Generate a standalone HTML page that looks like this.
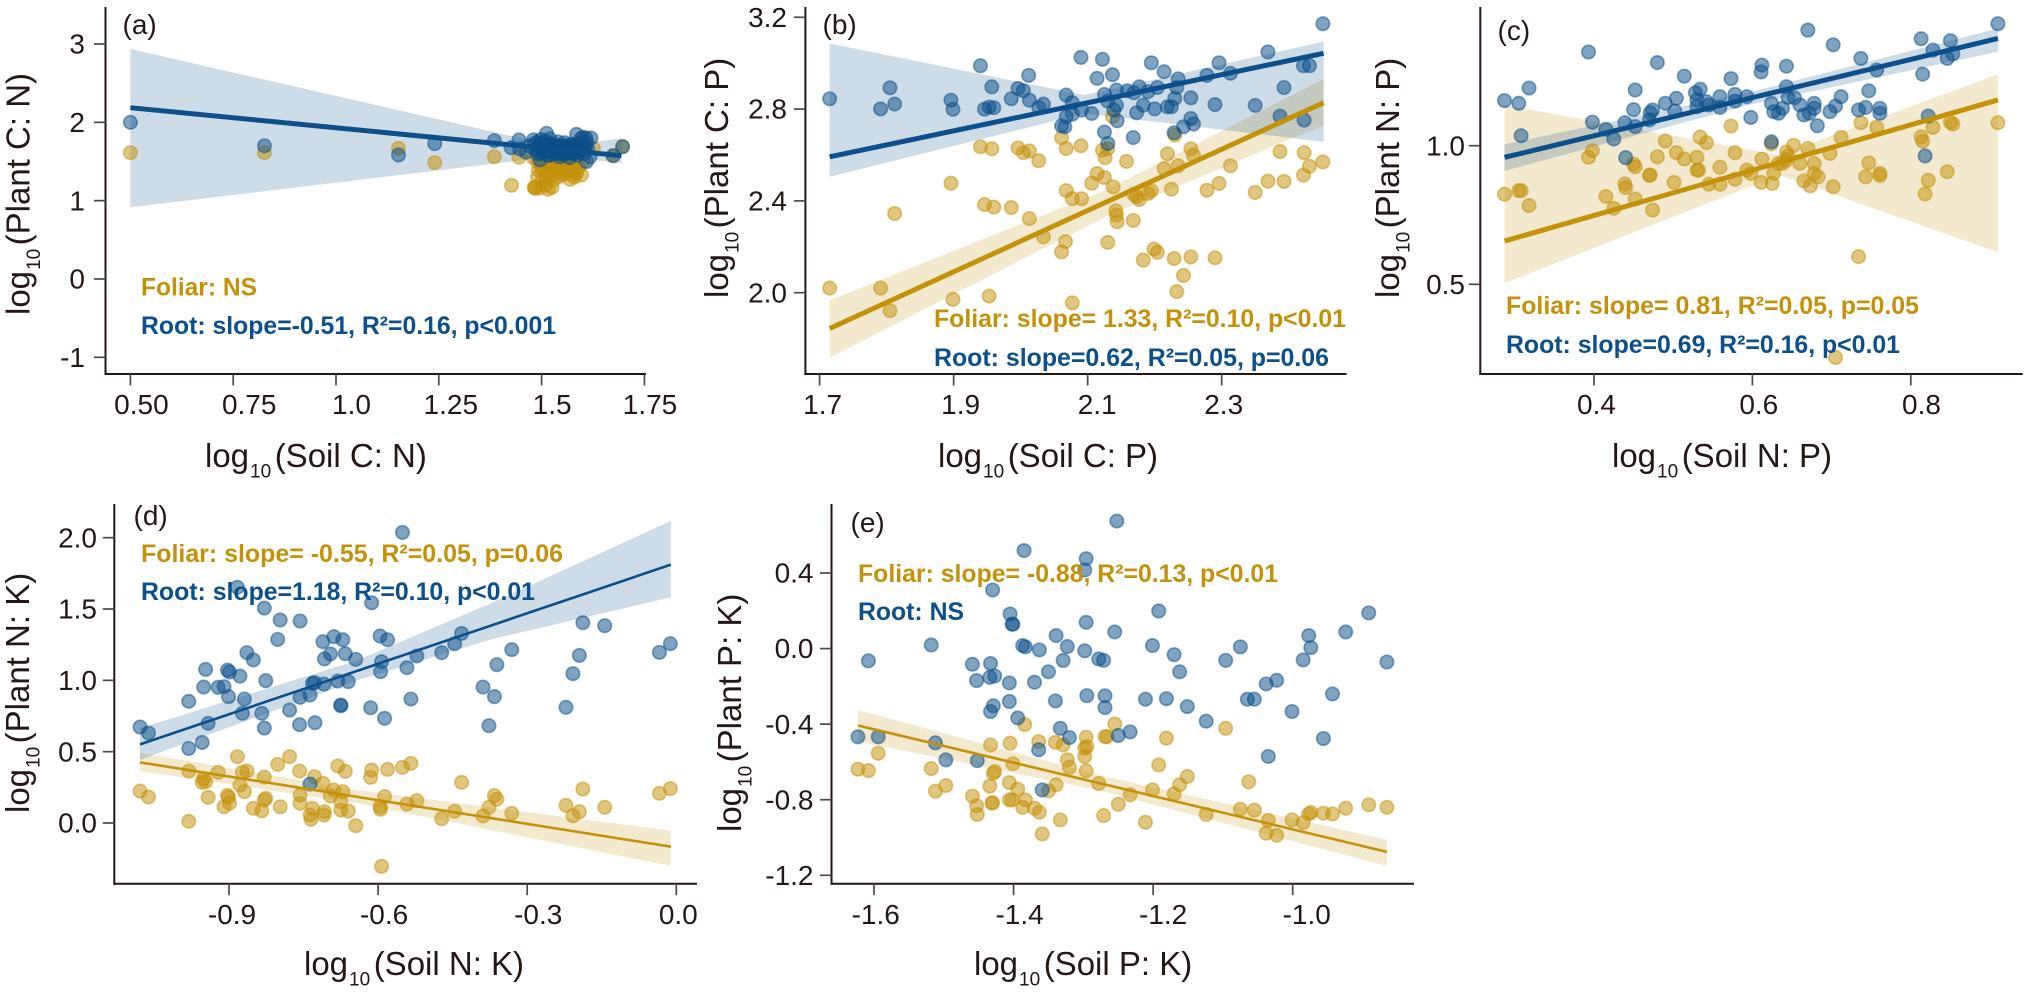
<!DOCTYPE html>
<html lang="en">
<head>
<meta charset="utf-8">
<title>Plant versus soil stoichiometry regressions</title>
<style>
html,body{margin:0;padding:0;background:#fff;}
#figure{display:block;width:2024px;height:992px;font-family:"Liberation Sans",Arial,sans-serif;}
.tick{font-size:28px;fill:#231815;}
.title{font-size:33px;fill:#231815;}
.sub{font-size:19px;}
.letter{font-size:28px;fill:#231815;}
.note{font-size:24.6px;font-weight:700;}
.foliar{fill:#C4920A;}
.root{fill:#0C4F8A;}
</style>
</head>
<body>
<svg id="figure" xmlns="http://www.w3.org/2000/svg" width="2024" height="992" viewBox="0 0 2024 992">
  <g id="layer-a"></g>
  <g id="layer-b"></g>
  <g id="layer-c"></g>
  <g id="layer-d"></g>
  <g id="layer-e"></g>

  <text class="letter" x="122.5" y="34">(a)</text>
  <text class="title" x="205" y="467">log<tspan class="sub" dx="1" dy="10.5">10</tspan><tspan dx="3.5" dy="-10.5">(Soil C: N)</tspan></text>
  <text class="title" transform="translate(29.5,315) rotate(-90)">log<tspan class="sub" dx="1" dy="10.5">10</tspan><tspan dx="3.5" dy="-10.5">(Plant C: N)</tspan></text>
  <text class="note foliar" x="141" y="295.5" textLength="116" lengthAdjust="spacingAndGlyphs">Foliar: NS</text>
  <text class="note root" x="141" y="334" textLength="415" lengthAdjust="spacingAndGlyphs">Root: slope=-0.51, R²=0.16, p&lt;0.001</text>

  <text class="letter" x="822.5" y="34">(b)</text>
  <text class="title" x="938" y="467">log<tspan class="sub" dx="1" dy="10.5">10</tspan><tspan dx="3.5" dy="-10.5">(Soil C: P)</tspan></text>
  <text class="title" transform="translate(728,298) rotate(-90)">log<tspan class="sub" dx="1" dy="10.5">10</tspan><tspan dx="3.5" dy="-10.5">(Plant C: P)</tspan></text>
  <text class="note foliar" x="934" y="327" textLength="412" lengthAdjust="spacingAndGlyphs">Foliar: slope= 1.33, R²=0.10, p&lt;0.01</text>
  <text class="note root" x="934" y="366" textLength="395" lengthAdjust="spacingAndGlyphs">Root: slope=0.62, R²=0.05, p=0.06</text>

  <text class="letter" x="1497.5" y="40">(c)</text>
  <text class="title" x="1612" y="467">log<tspan class="sub" dx="1" dy="10.5">10</tspan><tspan dx="3.5" dy="-10.5">(Soil N: P)</tspan></text>
  <text class="title" transform="translate(1399,298) rotate(-90)">log<tspan class="sub" dx="1" dy="10.5">10</tspan><tspan dx="3.5" dy="-10.5">(Plant N: P)</tspan></text>
  <text class="note foliar" x="1506" y="314" textLength="413" lengthAdjust="spacingAndGlyphs">Foliar: slope= 0.81, R²=0.05, p=0.05</text>
  <text class="note root" x="1506" y="353" textLength="394" lengthAdjust="spacingAndGlyphs">Root: slope=0.69, R²=0.16, p&lt;0.01</text>

  <text class="letter" x="133.5" y="525">(d)</text>
  <text class="title" x="304" y="975">log<tspan class="sub" dx="1" dy="10.5">10</tspan><tspan dx="3.5" dy="-10.5">(Soil N: K)</tspan></text>
  <text class="title" transform="translate(29,813) rotate(-90)">log<tspan class="sub" dx="1" dy="10.5">10</tspan><tspan dx="3.5" dy="-10.5">(Plant N: K)</tspan></text>
  <text class="note foliar" x="141" y="562" textLength="422" lengthAdjust="spacingAndGlyphs">Foliar: slope= -0.55, R²=0.05, p=0.06</text>
  <text class="note root" x="141" y="600" textLength="394" lengthAdjust="spacingAndGlyphs">Root: slope=1.18, R²=0.10, p&lt;0.01</text>

  <text class="letter" x="850.5" y="532">(e)</text>
  <text class="title" x="974" y="975">log<tspan class="sub" dx="1" dy="10.5">10</tspan><tspan dx="3.5" dy="-10.5">(Soil P: K)</tspan></text>
  <text class="title" transform="translate(741,832) rotate(-90)">log<tspan class="sub" dx="1" dy="10.5">10</tspan><tspan dx="3.5" dy="-10.5">(Plant P: K)</tspan></text>
  <text class="note foliar" x="858" y="582" textLength="420" lengthAdjust="spacingAndGlyphs">Foliar: slope= -0.88, R²=0.13, p&lt;0.01</text>
  <text class="note root" x="858" y="620" textLength="106" lengthAdjust="spacingAndGlyphs">Root: NS</text>
</svg>

<script>
/* ---------- Panel a: soil C:N vs plant C:N ---------- */
const aXTicks=[0.5,0.75,1,1.25,1.5,1.75];
const aXLabels=['0.50','0.75','1.0','1.25','1.5','1.75'];
const aYTicks=[-1,0,1,2,3];
const aYLabels=['-1','0','1','2','3'];
const aRootX=[.5,.826,1.152,1.24,1.385,1.426,1.445,1.447,1.462,1.47,1.48,1.485,1.487,1.49,1.496,1.498,1.5,1.505,1.51,1.512,1.515,1.518,1.52,1.525,1.53,1.533,1.537,1.54,1.543,1.547,1.55,1.553,1.556,1.56,1.564,1.568,1.57,1.574,1.577,1.58,1.583,1.585,1.587,1.59,1.593,1.596,1.6,1.603,1.606,1.608,1.609,1.612,1.618,1.62,1.61,1.53,1.545,1.51,1.5,1.674,1.697,1.49,1.5,1.51,1.52,1.53,1.54,1.55,1.56,1.57,1.58,1.59,1.6,1.49,1.51,1.53,1.55,1.57,1.59,1.52,1.54,1.56,1.58,1.5,1.52,1.54,1.56,1.58,1.6];
const aRootY=[2,1.7,1.583,1.728,1.766,1.676,1.775,1.66,1.62,1.7,1.775,1.74,1.65,1.6,1.52,1.78,1.7,1.63,1.76,1.86,1.58,1.69,1.79,1.62,1.72,1.6,1.67,1.75,1.56,1.64,1.7,1.59,1.74,1.62,1.68,1.55,1.72,1.64,1.6,1.69,1.66,1.847,1.58,1.73,1.64,1.79,1.81,1.6,1.69,1.8,1.498,1.66,1.56,1.8,1.74,1.65,1.6,1.66,1.6,1.574,1.689,1.66,1.66,1.72,1.66,1.6,1.62,1.64,1.7,1.62,1.63,1.68,1.65,1.72,1.62,1.68,1.66,1.68,1.62,1.72,1.7,1.66,1.72,1.74,1.58,1.66,1.6,1.64,1.7];
const aFoliarX=[.5,.826,1.152,1.24,1.385,1.445,1.427,1.484,1.482,1.492,1.516,1.528,1.569,1.597,1.626,1.674,1.697,1.5,1.51,1.52,1.525,1.53,1.54,1.545,1.55,1.552,1.56,1.565,1.57,1.575,1.58,1.585,1.59,1.6,1.5,1.51,1.525,1.54,1.535,1.545,1.555,1.56,1.55,1.53,1.52,1.565,1.575,1.58,1.48,1.49,1.505,1.495,1.5,1.52,1.54,1.55,1.56,1.57,1.53,1.55,1.54,1.56,1.52,1.58,1.51,1.49,1.485];
const aFoliarY=[1.613,1.613,1.668,1.485,1.562,1.553,1.196,1.157,1.17,1.39,1.145,1.264,1.272,1.328,1.668,1.574,1.689,1.45,1.3,1.4,1.52,1.35,1.47,1.4,1.55,1.33,1.44,1.5,1.38,1.45,1.55,1.35,1.42,1.5,1.24,1.2,1.17,1.3,1.42,1.5,1.43,1.38,1.47,1.47,1.47,1.42,1.33,1.4,1.55,1.5,1.55,1.16,1.4,1.45,1.38,1.36,1.47,1.5,1.55,1.42,1.5,1.55,1.3,1.3,1.37,1.3,1.17];
const aRootLineX=[.5,1.694];
const aRootLineY=[2.187,1.574];
const aRootBandX=[.5,1.54,1.694];
const aRootBandLo=[.915,1.57,1.477];
const aRootBandHi=[2.936,1.69,1.796];

/* ---------- Panel b: soil C:P vs plant C:P ---------- */
const bXTicks=[1.7,1.9,2.1,2.3];
const bXLabels=['1.7','1.9','2.1','2.3'];
const bYTicks=[2.0,2.4,2.8,3.2];
const bYLabels=['2.0','2.4','2.8','3.2'];
const bRootX=[1.715,1.791,1.805,1.812,1.896,1.899,1.940,1.946,1.953,1.960,1.957,1.986,1.996,2.004,2.013,2.012,2.027,2.034,2.061,2.066,2.068,2.068,2.077,2.077,2.090,2.091,2.106,2.114,2.122,2.125,2.125,2.130,2.130,2.137,2.139,2.143,2.144,2.143,2.159,2.168,2.169,2.173,2.177,2.183,2.190,2.195,2.200,2.204,2.214,2.219,2.225,2.230,2.229,2.233,2.235,2.243,2.254,2.258,2.254,2.278,2.290,2.296,2.313,2.350,2.369,2.387,2.393,2.422,2.431,2.423,2.451];
const bRootY=[2.845,2.801,2.893,2.822,2.839,2.799,2.989,2.800,2.809,2.806,2.897,2.845,2.890,2.880,2.839,2.947,2.807,2.822,2.727,2.723,2.861,2.767,2.778,2.828,3.025,2.796,2.781,2.934,3.017,2.864,2.700,2.650,2.835,2.950,2.796,2.817,2.749,2.883,2.880,2.676,2.871,2.784,2.897,2.817,2.876,3.002,2.801,2.894,2.963,2.810,2.810,2.847,2.697,2.894,2.932,2.723,2.759,2.735,2.849,2.947,2.820,3.002,2.956,2.816,3.049,2.769,2.894,2.989,2.989,2.752,3.172];
const bFoliarX=[1.715,1.791,1.805,1.812,1.896,1.899,1.940,1.946,1.953,1.957,1.960,1.986,1.996,2.004,2.013,2.013,2.027,2.034,2.061,2.061,2.067,2.068,2.068,2.077,2.077,2.090,2.091,2.106,2.114,2.122,2.125,2.126,2.130,2.130,2.137,2.138,2.142,2.143,2.144,2.158,2.168,2.169,2.173,2.177,2.183,2.190,2.195,2.199,2.204,2.214,2.219,2.225,2.229,2.230,2.233,2.235,2.243,2.254,2.254,2.258,2.278,2.290,2.296,2.313,2.350,2.369,2.387,2.393,2.422,2.423,2.431,2.451];
const bFoliarY=[2.020,2.020,1.922,2.345,2.477,1.971,2.636,2.384,1.985,2.627,2.373,2.371,2.631,2.610,2.618,2.323,2.575,2.243,2.675,2.178,2.223,2.628,2.445,2.410,1.956,2.640,2.409,2.477,2.519,2.621,2.502,2.588,2.219,2.628,2.767,2.461,2.357,2.338,2.309,2.572,2.315,2.429,2.418,2.406,2.142,2.432,2.444,2.190,2.176,2.541,2.605,2.451,2.149,2.687,2.005,2.553,2.075,2.627,2.156,2.598,2.447,2.152,2.476,2.553,2.437,2.486,2.615,2.485,2.512,2.610,2.551,2.570];
const bRootLineX=[1.715,2.452];
const bRootLineY=[2.592,3.043];
const bRootBandX=[1.715,2.095,2.452];
const bRootBandLo=[2.505,2.781,2.658];
const bRootBandHi=[3.086,2.861,3.094];
const bFoliarLineX=[1.715,2.452];
const bFoliarLineY=[1.844,2.828];
const bFoliarBandX=[1.715,2.127,2.452];
const bFoliarBandLo=[1.717,2.331,2.730];
const bFoliarBandHi=[1.967,2.447,2.931];

/* ---------- Panel c: soil N:P vs plant N:P ---------- */
const cXTicks=[0.4,0.6,0.8];
const cXLabels=['0.4','0.6','0.8'];
const cYTicks=[0.5,1.0];
const cYLabels=['0.5','1.0'];
const cRootX=[.287,.305,.308,.318,.393,.398,.415,.425,.439,.440,.450,.452,.452,.470,.471,.474,.480,.490,.502,.504,.514,.528,.530,.530,.534,.542,.545,.559,.559,.573,.578,.578,.593,.598,.611,.612,.624,.624,.627,.633,.638,.643,.643,.645,.653,.660,.665,.670,.672,.678,.678,.682,.698,.702,.705,.712,.734,.737,.743,.747,.757,.761,.761,.813,.815,.818,.822,.828,.846,.850,.853,.910];
const cRootY=[1.163,1.153,1.036,1.208,1.338,1.085,1.059,1.024,1.083,.957,1.130,1.201,1.069,1.093,1.119,1.129,1.300,1.153,1.125,1.171,1.251,1.191,1.165,1.141,1.204,1.159,1.147,1.177,1.138,1.242,1.185,1.161,1.177,1.102,1.266,1.291,1.153,1.014,1.123,1.117,1.135,1.287,1.213,1.174,1.173,1.147,1.111,1.417,1.117,1.153,1.135,1.072,1.123,1.364,1.143,1.177,1.129,1.315,1.138,1.198,1.273,1.135,1.117,1.386,1.258,.963,1.107,1.345,1.315,1.379,1.331,1.440];
const cFoliarX=[.287,.305,.308,.318,.393,.398,.415,.425,.439,.440,.450,.452,.452,.470,.471,.474,.480,.490,.501,.504,.514,.530,.530,.534,.532,.542,.545,.559,.559,.573,.578,.578,.593,.598,.611,.612,.624,.625,.627,.633,.638,.643,.643,.645,.652,.660,.665,.670,.673,.678,.678,.683,.698,.702,.705,.712,.734,.737,.743,.747,.757,.761,.761,.813,.815,.818,.822,.828,.846,.850,.853,.910];
const cFoliarY=[.825,.838,.838,.784,.958,.982,.817,.774,.862,.849,.934,.924,.808,.893,.894,.768,.960,1.017,.868,.975,.952,.958,.912,1.031,.912,1.011,.861,.922,.861,1.071,.975,.879,.912,.900,.868,.952,1.006,.864,.900,.936,.936,.977,.948,.963,1.001,.936,.873,.990,.855,.936,.900,.888,.972,.852,.236,1.030,.600,1.083,.888,.938,1.066,.900,.892,1.032,1.016,.826,.875,1.066,.906,1.085,1.078,1.083];
const cRootLineX=[.287,.910];
const cRootLineY=[.958,1.387];
const cRootBandX=[.287,.6,.910];
const cRootBandLo=[.909,1.15,1.339];
const cRootBandHi=[1.005,1.195,1.423];
const cFoliarLineX=[.287,.910];
const cFoliarLineY=[.656,1.165];
const cFoliarBandX=[.287,.634,.910];
const cFoliarBandLo=[.504,.894,.615];
const cFoliarBandHi=[1.147,.966,1.258];

/* ---------- Panel d: soil N:K vs plant N:K ---------- */
const dXTicks=[-0.9,-0.6,-0.3,0];
const dXLabels=['-0.9','-0.6','-0.3','0.0'];
const dYTicks=[0,0.5,1,1.5,2];
const dYLabels=['0.0','0.5','1.0','1.5','2.0'];
const dRootX=[-1.079,-1.062,-.981,-.981,-.954,-.951,-.947,-.942,-.922,-.910,-.903,-.901,-.899,-.878,-.883,-.873,-.869,-.864,-.851,-.834,-.829,-.829,-.826,-.802,-.797,-.778,-.758,-.757,-.757,-.737,-.732,-.728,-.727,-.737,-.711,-.709,-.708,-.696,-.689,-.681,-.675,-.675,-.671,-.666,-.660,-.645,-.615,-.613,-.596,-.595,-.593,-.587,-.581,-.551,-.542,-.534,-.522,-.472,-.446,-.432,-.389,-.377,-.366,-.361,-.331,-.222,-.208,-.195,-.188,-.144,-.034,-.012];
const dRootY=[.673,.631,.853,.523,.565,.953,1.077,.699,.951,.956,1.072,.886,1.058,1.030,1.652,.769,.869,1.194,1.143,.769,1.507,.666,.998,1.287,1.423,.792,.689,1.416,.881,.897,.979,.984,.703,.273,1.271,.974,1.150,1.185,1.306,.995,.822,.827,1.285,1.187,.991,1.147,.808,1.544,1.311,1.061,1.131,.734,1.285,2.037,1.089,.869,1.171,1.194,1.257,1.329,.953,.682,.886,1.110,1.215,.811,1.047,1.175,1.404,1.383,1.196,1.257];
const dFoliarX=[-1.079,-1.062,-.981,-.981,-.954,-.951,-.947,-.942,-.922,-.910,-.903,-.901,-.899,-.878,-.883,-.873,-.869,-.864,-.851,-.834,-.829,-.829,-.826,-.802,-.797,-.778,-.758,-.757,-.757,-.737,-.732,-.728,-.735,-.711,-.709,-.708,-.696,-.689,-.681,-.675,-.675,-.671,-.666,-.660,-.645,-.615,-.613,-.596,-.595,-.593,-.587,-.581,-.551,-.542,-.534,-.522,-.472,-.446,-.432,-.389,-.377,-.366,-.361,-.331,-.222,-.208,-.195,-.188,-.144,-.034,-.012];
const dFoliarY=[.224,.182,.364,.012,.285,.311,.290,.180,.355,.114,.194,.180,.138,.266,.465,.357,.220,.364,.103,.086,.322,.161,.173,.411,.114,.465,.364,.196,.138,.056,.103,.325,.026,.278,.056,.079,.189,.231,.400,.091,.150,.220,.362,.084,-.019,.320,.371,.114,.096,-.304,.185,.376,.390,.133,.418,.157,.030,.082,.285,.049,.110,.192,.166,.068,.124,.051,.079,.238,.110,.208,.241];
const dRootLineX=[-1.079,-.011];
const dRootLineY=[.551,1.811];
const dRootBandX=[-1.079,-.642,-.373,-.011];
const dRootBandLo=[.442,1.0,1.287,1.582];
const dRootBandHi=[.664,1.14,1.54,2.117];
const dFoliarLineX=[-1.079,-.011];
const dFoliarLineY=[.425,-.166];
const dFoliarBandX=[-1.079,-.642,-.011];
const dFoliarBandLo=[.364,.138,-.301];
const dFoliarBandHi=[.493,.231,-.054];

/* ---------- Panel e: soil P:K vs plant P:K ---------- */
const eXTicks=[-1.6,-1.4,-1.2,-1.0];
const eXLabels=['-1.6','-1.4','-1.2','-1.0'];
const eYTicks=[-1.2,-0.8,-0.4,0,0.4];
const eYLabels=['-1.2','-0.8','-0.4','0.0','0.4'];
const eRootX=[-1.623,-1.608,-1.594,-1.518,-1.512,-1.497,-1.459,-1.453,-1.452,-1.433,-1.434,-1.430,-1.427,-1.433,-1.429,-1.406,-1.406,-1.405,-1.402,-1.401,-1.394,-1.387,-1.383,-1.363,-1.370,-1.364,-1.359,-1.350,-1.340,-1.339,-1.333,-1.329,-1.323,-1.320,-1.385,-1.298,-1.296,-1.298,-1.296,-1.295,-1.278,-1.271,-1.269,-1.269,-1.252,-1.255,-1.250,-1.233,-1.211,-1.201,-1.192,-1.181,-1.170,-1.162,-1.151,-1.124,-1.096,-1.075,-1.065,-1.055,-1.038,-1.035,-1.023,-1.001,-.985,-.977,-.974,-.956,-.943,-.924,-.891,-.865];
const eRootY=[-.467,-.065,-.467,.019,-.499,-.589,-.083,-.169,-.593,-.079,-.152,.310,-.145,-.333,-.303,-.182,-.280,.183,.129,.129,-.367,.016,.009,-.007,-.178,-.536,-.748,-.123,-.277,.069,-.422,-.063,.011,-.471,.519,-.012,.476,.416,.139,-.249,-.055,-.062,-.250,-.312,.675,.088,-.460,-.441,-.268,.016,.199,-.265,-.032,-.123,-.307,-.384,-.062,.009,-.268,-.268,-.187,-.571,-.168,-.333,-.060,.069,.005,-.476,-.240,.088,.189,-.071];
const eFoliarX=[-1.623,-1.608,-1.594,-1.518,-1.512,-1.497,-1.459,-1.453,-1.452,-1.433,-1.434,-1.430,-1.427,-1.429,-1.431,-1.406,-1.406,-1.405,-1.402,-1.401,-1.394,-1.387,-1.384,-1.383,-1.370,-1.364,-1.363,-1.359,-1.350,-1.340,-1.339,-1.333,-1.329,-1.323,-1.320,-1.298,-1.296,-1.298,-1.296,-1.295,-1.278,-1.271,-1.269,-1.266,-1.255,-1.250,-1.233,-1.211,-1.201,-1.192,-1.181,-1.170,-1.162,-1.151,-1.124,-1.096,-1.075,-1.063,-1.055,-1.035,-1.038,-1.023,-1.001,-.985,-.977,-.974,-.956,-.943,-.924,-.891,-.865];
const eFoliarY=[-.638,-.646,-.554,-.635,-.755,-.725,-.781,-.832,-.878,-.510,-.728,-.815,-.651,-.660,-.818,-.709,-.801,-.501,-.801,-.610,-.744,-.841,-.402,-.801,-.845,-.492,-.866,-.981,-.753,-.496,-.721,-.907,-.510,-.589,-.628,-.571,-.647,-.527,-.469,-.519,-.714,-.884,-.466,-.466,-.399,-.824,-.774,-.919,-.748,-.616,-.474,-.769,-.721,-.677,-.878,-.422,-.850,-.705,-.855,-.910,-.977,-.988,-.907,-.921,-.875,-.868,-.871,-.875,-.845,-.827,-.840];
const eFoliarLineX=[-1.623,-.865];
const eFoliarLineY=[-.407,-1.076];
const eFoliarBandX=[-1.623,-1.28,-.865];
const eFoliarBandLo=[-.492,-.748,-1.15];
const eFoliarBandHi=[-.325,-.668,-1.012];

/* ---------- Layout of each panel (pixel geometry lives here, not in the data) ---------- */
const ROOT_COLOR='#0C4F8A';
const FOLIAR_COLOR='#C4920A';
const INK='#231815';
const TICK_INK='#4a4a4a';
const SVG_NS='http://www.w3.org/2000/svg';

const panels=[
 {id:'a',xTicks:aXTicks,xLabels:aXLabels,yTicks:aYTicks,yLabels:aYLabels,
  xd:[.5,1.75],xp:[130.4,644.4],yd:[-1,3],yp:[357.3,44],
  axisX:105.5,axisY:374,top:7,right:646,labelY:414,yLabelEnd:85,lineW:5,
  xLabelDx:[11,16,15.5,12,10.5,5.6],
  rootX:aRootX,rootY:aRootY,foliarX:aFoliarX,foliarY:aFoliarY,
  rootLine:[aRootLineX,aRootLineY],rootBand:[aRootBandX,aRootBandLo,aRootBandHi]},
 {id:'b',xTicks:bXTicks,xLabels:bXLabels,yTicks:bYTicks,yLabels:bYLabels,
  xd:[1.7,2.3],xp:[819.6,1221.7],yd:[2,3.2],yp:[292.7,17.3],
  axisX:805.4,axisY:374,top:7,right:1346.5,labelY:414,yLabelEnd:787,lineW:5,
  xLabelDx:[3,7,9.5,2],
  rootX:bRootX,rootY:bRootY,foliarX:bFoliarX,foliarY:bFoliarY,
  rootLine:[bRootLineX,bRootLineY],rootBand:[bRootBandX,bRootBandLo,bRootBandHi],
  foliarLine:[bFoliarLineX,bFoliarLineY],foliarBand:[bFoliarBandX,bFoliarBandLo,bFoliarBandHi]},
 {id:'c',xTicks:cXTicks,xLabels:cXLabels,yTicks:cYTicks,yLabels:cYLabels,
  xd:[.4,.8],xp:[1594,1910.8],yd:[.5,1],yp:[284.3,145.7],
  axisX:1480.3,axisY:374,top:7,right:2022.7,labelY:414,yLabelEnd:1465,lineW:5,
  xLabelDx:[2.5,6.4,10.7],
  rootX:cRootX,rootY:cRootY,foliarX:cFoliarX,foliarY:cFoliarY,
  rootLine:[cRootLineX,cRootLineY],rootBand:[cRootBandX,cRootBandLo,cRootBandHi],
  foliarLine:[cFoliarLineX,cFoliarLineY],foliarBand:[cFoliarBandX,cFoliarBandLo,cFoliarBandHi]},
 {id:'d',xTicks:dXTicks,xLabels:dXLabels,yTicks:dYTicks,yLabels:dYLabels,
  xd:[-.9,0],xp:[229,676.3],yd:[0,2],yp:[823,537.7],
  axisX:114.3,axisY:883.7,top:504,right:697,labelY:924,yLabelEnd:97,lineW:2.6,
  xLabelDx:[3,6,11,2],
  rootX:dRootX,rootY:dRootY,foliarX:dFoliarX,foliarY:dFoliarY,
  rootLine:[dRootLineX,dRootLineY],rootBand:[dRootBandX,dRootBandLo,dRootBandHi],
  foliarLine:[dFoliarLineX,dFoliarLineY],foliarBand:[dFoliarBandX,dFoliarBandLo,dFoliarBandHi]},
 {id:'e',xTicks:eXTicks,xLabels:eXLabels,yTicks:eYTicks,yLabels:eYLabels,
  xd:[-1.6,-1],xp:[874,1292.7],yd:[-1.2,.4],yp:[875.3,573],
  axisX:831.5,axisY:883.7,top:504,right:1414,labelY:924,yLabelEnd:813.5,lineW:2.6,
  xLabelDx:[1.7,6,10,14],
  rootX:eRootX,rootY:eRootY,foliarX:eFoliarX,foliarY:eFoliarY,
  foliarLine:[eFoliarLineX,eFoliarLineY],foliarBand:[eFoliarBandX,eFoliarBandLo,eFoliarBandHi]}
];

function scale(domain,range){
  return function(v){return range[0]+(v-domain[0])*(range[1]-range[0])/(domain[1]-domain[0]);};
}
function make(tag,attrs,parent){
  const node=document.createElementNS(SVG_NS,tag);
  for(const k in attrs){node.setAttribute(k,attrs[k]);}
  parent.appendChild(node);
  return node;
}

function drawBand(p,g,band,color,sx,sy,label){
  if(!band){return;}
  const upper=band[0].map(function(x,i){return sx(x).toFixed(1)+','+sy(band[2][i]).toFixed(1);});
  const lower=band[0].map(function(x,i){return sx(x).toFixed(1)+','+sy(band[1][i]).toFixed(1);}).reverse();
  const el=make('polygon',{points:upper.concat(lower).join(' '),fill:color,'fill-opacity':0.2},g);
  
  
}
function drawLine(p,g,line,color,sx,sy,label){
  if(!line){return;}
  const el=make('line',{x1:sx(line[0][0]),y1:sy(line[1][0]),x2:sx(line[0][1]),y2:sy(line[1][1]),stroke:color,'stroke-width':p.lineW},g);
  
  
}
function drawPoints(p,g,xs,ys,color,sx,sy,label){
  xs.forEach(function(x,i){
    const el=make('circle',{cx:sx(x),cy:sy(ys[i]),r:6.7,fill:color,'fill-opacity':0.52,stroke:color,'stroke-opacity':0.5,'stroke-width':1.7},g);
    
    
  });
}
function drawAxes(p,g,sx,sy){
  const yAxis=make('line',{x1:p.axisX,y1:p.top,x2:p.axisX,y2:p.axisY+1,stroke:INK,'stroke-width':2},g);
  
  
  const xAxis=make('line',{x1:p.axisX-1,y1:p.axisY,x2:p.right,y2:p.axisY,stroke:INK,'stroke-width':2},g);
  
  
  p.xTicks.forEach(function(v,i){
    const px=sx(v);
    const tick=make('line',{x1:px,y1:p.axisY,x2:px,y2:p.axisY+11.5,stroke:TICK_INK,'stroke-width':1.7},g);
    
    
    const text=make('text',{x:px+p.xLabelDx[i],y:p.labelY,'text-anchor':'middle','class':'tick'},g);
    
    
    text.textContent=p.xLabels[i];
  });
  p.yTicks.forEach(function(v,i){
    const py=sy(v);
    const tick=make('line',{x1:p.axisX-11.5,y1:py,x2:p.axisX,y2:py,stroke:TICK_INK,'stroke-width':1.7},g);
    
    
    const text=make('text',{x:p.yLabelEnd,y:py+9.6,'text-anchor':'end','class':'tick'},g);
    
    
    text.textContent=p.yLabels[i];
  });
}

panels.forEach(function(p){
  const g=document.getElementById('layer-'+p.id);
  const sx=scale(p.xd,p.xp);
  const sy=scale(p.yd,p.yp);
  drawBand(p,g,p.foliarBand,FOLIAR_COLOR,sx,sy,'foliar');
  drawBand(p,g,p.rootBand,ROOT_COLOR,sx,sy,'root');
  drawPoints(p,g,p.foliarX,p.foliarY,FOLIAR_COLOR,sx,sy,'foliar');
  drawPoints(p,g,p.rootX,p.rootY,ROOT_COLOR,sx,sy,'root');
  drawLine(p,g,p.foliarLine,FOLIAR_COLOR,sx,sy,'foliar');
  drawLine(p,g,p.rootLine,ROOT_COLOR,sx,sy,'root');
  drawAxes(p,g,sx,sy);
});
</script>
</body>
</html>
